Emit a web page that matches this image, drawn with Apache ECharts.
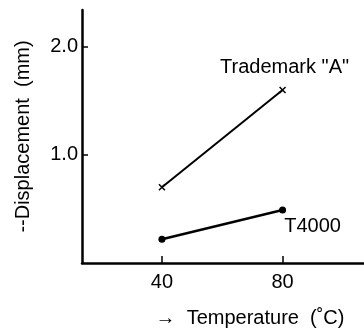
<!DOCTYPE html>
<html>
<head>
<meta charset="utf-8">
<script src="https://cdn.jsdelivr.net/npm/echarts@6/dist/echarts.min.js"></script>
<style>
  html, body { margin: 0; padding: 0; background: #fff; }
  #chart { width: 364px; height: 330px; }
</style>
</head>
<body>
<div id="chart"></div>
<script>
// Displacement versus temperature for two materials
const temperatures = [40, 80];
const trademarkA = [0.70, 1.60];
const t4000 = [0.22, 0.49];
const xTicks = [40, 80];
const yTicks = [1.0, 2.0];
const seriesNames = ['Trademark "A"', 'T4000'];

const font = 'Liberation Sans, Arial, sans-serif';
const ink = '#000';
const fs = 20;

// filled "x" glyph used as the marker for the first series
const crossPath = 'path://M0,1.5L1.5,0L10,8.5L8.5,10Z M8.5,0L10,1.5L1.5,10L0,8.5Z';

const chart = echarts.init(document.getElementById('chart'));

function pairs(vals) {
  return temperatures.map((t, i) => [t, vals[i]]);
}

chart.setOption({
  animation: false,
  backgroundColor: '#fff',
  grid: { left: 82, right: 0, top: 10, bottom: 67, containLabel: false, outerBoundsMode: 'none' },
  xAxis: {
    type: 'value',
    min: 13.5,
    max: 107,
    name: '→  Temperature  (˚C)',
    nameLocation: 'middle',
    nameGap: 45,
    nameTextStyle: { fontFamily: font, fontSize: fs, color: ink, padding: [0, 0, 0, 54] },
    axisLine: { show: true, lineStyle: { color: ink, width: 2.5 } },
    axisTick: { show: true, inside: true, length: 7, customValues: xTicks, lineStyle: { color: ink, width: 1.5 } },
    axisLabel: { customValues: xTicks, fontFamily: font, fontSize: fs, color: ink, margin: 9 },
    splitLine: { show: false }
  },
  yAxis: {
    type: 'value',
    min: 0,
    max: 2.34,
    name: '--Displacement  (mm)',
    nameLocation: 'middle',
    nameRotate: 90,
    nameGap: 49,
    nameTextStyle: { fontFamily: font, fontSize: fs, color: ink },
    axisLine: { show: true, lineStyle: { color: ink, width: 2.5 } },
    axisTick: { show: true, inside: true, length: 6, customValues: yTicks, lineStyle: { color: ink, width: 1.5 } },
    axisLabel: {
      customValues: yTicks,
      formatter: v => v.toFixed(1),
      fontFamily: font, fontSize: fs, color: ink, margin: 4
    },
    splitLine: { show: false }
  },
  series: [
    {
      name: seriesNames[0],
      type: 'line',
      data: pairs(trademarkA),
      symbol: crossPath,
      symbolSize: 7,
      showAllSymbol: true,
      itemStyle: { color: ink },
      lineStyle: { color: ink, width: 2 },
      label: {
        show: true,
        formatter: p => (p.dataIndex === temperatures.length - 1 ? seriesNames[0] : ''),
        position: 'top',
        offset: [2, -4],
        fontFamily: font, fontSize: fs, color: ink
      }
    },
    {
      name: seriesNames[1],
      type: 'line',
      data: pairs(t4000),
      symbol: 'circle',
      symbolSize: 7,
      showAllSymbol: true,
      itemStyle: { color: ink },
      lineStyle: { color: ink, width: 2.5 },
      label: {
        show: true,
        formatter: p => (p.dataIndex === temperatures.length - 1 ? seriesNames[1] : ''),
        position: 'bottom',
        offset: [30, -2],
        fontFamily: font, fontSize: fs, color: ink
      }
    }
  ]
});
</script>
</body>
</html>
